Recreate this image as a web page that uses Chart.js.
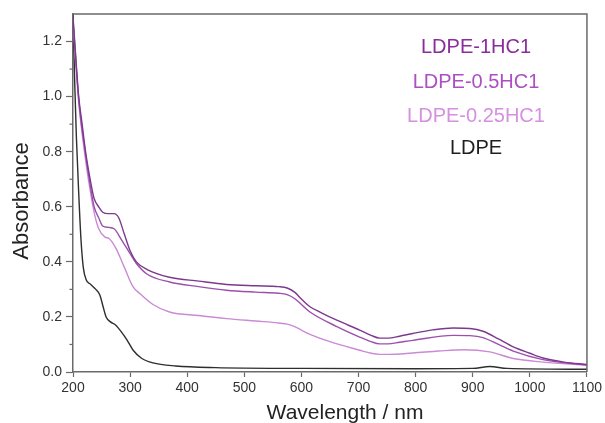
<!DOCTYPE html>
<html>
<head>
<meta charset="utf-8">
<script src="https://cdn.jsdelivr.net/npm/chart.js@4/dist/chart.umd.min.js"></script>
<style>
  html, body { margin: 0; padding: 0; background: #fff; }
  #wrap { width: 605px; height: 423px; }
</style>
</head>
<body>
<div id="wrap"><canvas id="absChart" width="605" height="423"></canvas></div>
<script>
// series names + colours
const seriesNames = ['LDPE-1HC1', 'LDPE-0.5HC1', 'LDPE-0.25HC1', 'LDPE'];
const lineColors = ['#7c3a8c', '#9d4fae', '#cb8ad6', '#2e2e2e'];
const labelColors = ['#8a2c9c', '#ac4fc2', '#d590e0', '#1e1e1e'];

// wavelength (nm) / absorbance
const wl1 = [200, 203, 210, 216, 222, 230, 237, 245, 252, 262, 272, 280, 290, 300, 311, 330, 369, 420, 469, 520, 560, 575, 588, 600, 615, 635, 662, 702, 722, 737, 752, 772, 795, 830, 866, 895, 918, 945, 971, 1000, 1023, 1060, 1100];
const abs1 = [1.29, 1.2, 1.0, 0.9, 0.8, 0.7, 0.63, 0.6, 0.58, 0.575, 0.575, 0.56, 0.5, 0.44, 0.4, 0.372, 0.344, 0.33, 0.318, 0.313, 0.31, 0.305, 0.29, 0.265, 0.237, 0.215, 0.188, 0.152, 0.133, 0.123, 0.123, 0.13, 0.14, 0.153, 0.16, 0.158, 0.148, 0.12, 0.091, 0.068, 0.051, 0.036, 0.027];

const wl2 = [200, 203, 210, 222, 230, 237, 245, 252, 262, 272, 285, 300, 311, 330, 369, 420, 469, 520, 560, 575, 588, 600, 615, 662, 702, 722, 737, 752, 772, 795, 866, 895, 918, 945, 971, 1023, 1100];
const abs2 = [1.28, 1.19, 0.99, 0.79, 0.68, 0.6, 0.56, 0.53, 0.525, 0.52, 0.48, 0.43, 0.394, 0.355, 0.327, 0.31, 0.297, 0.29, 0.286, 0.281, 0.267, 0.245, 0.218, 0.165, 0.127, 0.11, 0.102, 0.102, 0.108, 0.115, 0.133, 0.132, 0.125, 0.1, 0.076, 0.045, 0.025];

const wl3 = [200, 203, 210, 222, 230, 237, 245, 256, 263, 275, 290, 305, 317, 340, 369, 420, 469, 520, 560, 575, 588, 600, 615, 650, 702, 722, 737, 752, 795, 840, 884, 930, 971, 1023, 1100];
const abs3 = [1.27, 1.18, 0.98, 0.77, 0.66, 0.58, 0.52, 0.49, 0.485, 0.45, 0.38, 0.31, 0.285, 0.245, 0.218, 0.205, 0.194, 0.185, 0.178, 0.174, 0.165, 0.152, 0.137, 0.11, 0.079, 0.068, 0.064, 0.064, 0.069, 0.076, 0.081, 0.073, 0.049, 0.036, 0.025];

const wl4 = [200, 203, 206, 210, 214, 218, 223, 230, 240, 247, 253, 258, 265, 275, 285, 295, 305, 320, 340, 380, 450, 600, 800, 900, 930, 960, 1100];
const abs4 = [1.3, 1.05, 0.85, 0.65, 0.48, 0.38, 0.335, 0.32, 0.3, 0.28, 0.235, 0.2, 0.183, 0.17, 0.145, 0.115, 0.08, 0.05, 0.033, 0.022, 0.016, 0.013, 0.012, 0.013, 0.02, 0.013, 0.01];

// tick values
const xTicks = [200, 300, 400, 500, 600, 700, 800, 900, 1000, 1100];
const yTicks = [0.0, 0.2, 0.4, 0.6, 0.8, 1.0, 1.2];
const yMinorTicks = [0.1, 0.3, 0.5, 0.7, 0.9, 1.1];

const axisColor = '#6a6a6a';
const textColor = '#333333';
const fontFamily = '"Liberation Sans", Arial, sans-serif';

function toPoints(xs, ys) {
    return xs.map((x, k) => ({ x: x, y: ys[k] }));
}

const allWl = [wl1, wl2, wl3, wl4];
const allAbs = [abs1, abs2, abs3, abs4];

const datasets = seriesNames.map((name, k) => ({
    label: name,
    data: toPoints(allWl[k], allAbs[k]),
    borderColor: lineColors[k],
    borderWidth: 1.4,
    pointRadius: 0,
    fill: false,
    cubicInterpolationMode: 'monotone'
}));

// frame (top + right), y minor ticks, axis titles, and the text legend
const framePlugin = {
    id: 'frame',
    afterDraw(chart) {
        const ctx = chart.ctx;
        const a = chart.chartArea;
        const ys = chart.scales.y;
        ctx.save();
        ctx.strokeStyle = axisColor;
        ctx.lineWidth = 1.5;
        ctx.beginPath();
        ctx.moveTo(a.left, a.top);
        ctx.lineTo(a.right, a.top);
        ctx.lineTo(a.right, a.bottom);
        ctx.stroke();

        ctx.lineWidth = 1.2;
        yMinorTicks.forEach(v => {
            const py = ys.getPixelForValue(v);
            ctx.beginPath();
            ctx.moveTo(a.left - 3.5, py);
            ctx.lineTo(a.left, py);
            ctx.stroke();
        });

        // axis titles
        ctx.fillStyle = '#222';
        ctx.textAlign = 'center';
        ctx.textBaseline = 'middle';
        ctx.font = '21px ' + fontFamily;
        ctx.fillText('Wavelength / nm', 345, 413);
        ctx.save();
        ctx.translate(22, 201);
        ctx.rotate(-Math.PI / 2);
        ctx.font = '22px ' + fontFamily;
        ctx.fillText('Absorbance', 0, 0);
        ctx.restore();

        // legend
        ctx.font = '20px ' + fontFamily;
        const legendX = 476;
        const legendY = [47, 82, 116, 148];
        seriesNames.forEach((name, k) => {
            ctx.fillStyle = labelColors[k];
            ctx.fillText(name, legendX, legendY[k]);
        });
        ctx.restore();
    }
};

new Chart(document.getElementById('absChart'), {
    type: 'line',
    data: { datasets: datasets },
    options: {
        responsive: false,
        animation: false,
        layout: { padding: { top: 14, right: 18, left: 0, bottom: 0 } },
        plugins: {
            legend: { display: false },
            tooltip: { enabled: false }
        },
        scales: {
            x: {
                type: 'linear',
                min: 200,
                max: 1100,
                afterBuildTicks: s => { s.ticks = xTicks.map(v => ({ value: v })); },
                afterFit: s => { s.height = 51; },
                border: { color: axisColor, width: 1.5 },
                grid: { drawOnChartArea: false, tickLength: 5, tickColor: axisColor, tickWidth: 1.2 },
                ticks: {
                    padding: 3,
                    color: textColor,
                    font: { family: fontFamily, size: 14 },
                    maxRotation: 0,
                    callback: v => String(v)
                }
            },
            y: {
                min: 0,
                max: 1.3,
                afterBuildTicks: s => { s.ticks = yTicks.map(v => ({ value: v })); },
                afterFit: s => { s.width = 73; },
                border: { color: axisColor, width: 1.5 },
                grid: { drawOnChartArea: false, tickLength: 7, tickColor: axisColor, tickWidth: 1.2 },
                ticks: {
                    padding: 4,
                    color: textColor,
                    font: { family: fontFamily, size: 14 },
                    callback: v => v.toFixed(1)
                }
            }
        }
    },
    plugins: [framePlugin]
});
</script>
</body>
</html>
